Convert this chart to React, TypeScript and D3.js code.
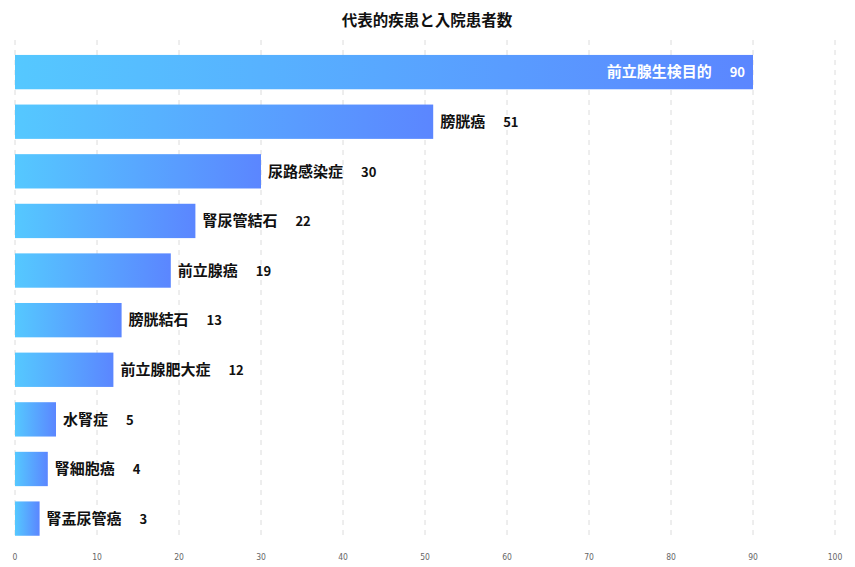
import React from 'react';
import * as d3 from 'd3';

// data
const diseases = ['前立腺生検目的', '膀胱癌', '尿路感染症', '腎尿管結石', '前立腺癌', '膀胱結石', '前立腺肥大症', '水腎症', '腎細胞癌', '腎盂尿管癌'];
const patients = [90, 51, 30, 22, 19, 13, 12, 5, 4, 3];
const xTicks = [0, 10, 20, 30, 40, 50, 60, 70, 80, 90, 100];
const title = '代表的疾患と入院患者数';

const width = 855;
const height = 567;
const font = "'Noto Sans CJK JP', 'Noto Sans', sans-serif";

export default function App() {
  const x = d3.scaleLinear().domain([0, 100]).range([15, 835]);
  const y = d3.scaleBand<string>().domain(diseases).range([47.3, 543.4]).paddingInner(0.308).paddingOuter(0.154);

  return (
    <svg width={width} height={height} style={{ position: 'absolute', left: 0, top: 0, background: '#fff' }}>
      <defs>
        <linearGradient id="barGrad" x1="0" y1="0" x2="1" y2="0">
          <stop offset="0%" stopColor="#55c8ff" />
          <stop offset="100%" stopColor="#5b86ff" />
        </linearGradient>
      </defs>

      <text x={427} y={26} textAnchor="middle" fontFamily={font} fontWeight="bold" fontSize={15.5} fill="#111">
        {title}
      </text>

      {/* grid */}
      {xTicks.map(t => (
        <line key={'g' + t} x1={x(t)} x2={x(t)} y1={40} y2={540} stroke="#dcdcdc" strokeWidth={1} strokeDasharray="5,5" />
      ))}
      {xTicks.map(t => (
        <text key={'t' + t} x={x(t)} y={560} textAnchor="middle" fontFamily="'Liberation Sans Narrow', 'DejaVu Sans Condensed', sans-serif" fontSize={8.5} fill="#666">
          {t}
        </text>
      ))}

      {/* bars */}
      {diseases.map((d, i) => {
        const v = patients[i];
        const y0 = y(d)!;
        const bw = y.bandwidth();
        const inside = v > 80;
        const lx = inside ? x(v) - 8 : x(v) + 7;
        return (
          <g key={d}>
            <rect x={x(0)} y={y0} width={x(v) - x(0)} height={bw} fill="url(#barGrad)" />
            <text x={lx} y={y0 + bw / 2} dy="0.35em" textAnchor={inside ? 'end' : 'start'}
              fontFamily={font} fontWeight="bold" fontSize={15} fill={inside ? '#fff' : '#111'}>
              {d}
              <tspan dx={18} fontSize={13}>{v}</tspan>
            </text>
          </g>
        );
      })}
    </svg>
  );
}
